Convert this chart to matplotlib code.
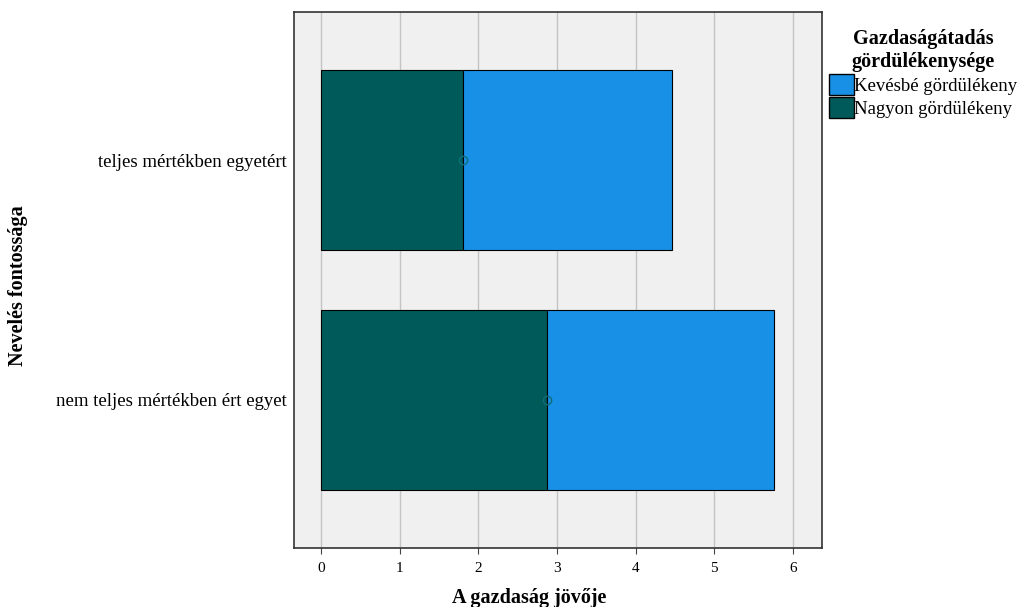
import matplotlib.pyplot as plt
from matplotlib.patches import Patch

categories = ['nem teljes mértékben ért egyet', 'teljes mértékben egyetért']
nagyon = [2.88, 1.80]
kevesbe = [2.88, 2.66]
series_labels = ['Kevésbé gördülékeny', 'Nagyon gördülékeny']
light = '#1790E6'
dark = '#005A5A'

plt.rcParams['font.family'] = ['Liberation Serif', 'DejaVu Serif']

fig = plt.figure(figsize=(10.2, 6.07), dpi=100)
ax = fig.add_axes([294 / 1020, 1 - 548 / 607, 528 / 1020, 536 / 607])
ax.set_facecolor('#F0F0F0')

ypos = list(range(len(categories)))
ax.barh(ypos, nagyon, height=0.75, color=dark, edgecolor='black', linewidth=0.8, zorder=3)
ax.barh(ypos, kevesbe, left=nagyon, height=0.75, color=light, edgecolor='black', linewidth=0.8, zorder=3)
ax.plot(nagyon, ypos, 'o', ms=6, mfc='none', mec='#0F6E78', mew=1, zorder=4)

ax.set_xlim(-0.343, 6.37)
ax.set_ylim(-0.617, 1.617)
ax.set_xticks(range(7))
ax.set_yticks(ypos)
ax.set_yticklabels(categories, fontsize=13.5)
ax.tick_params(axis='x', labelsize=11, length=4, color='#444444', pad=6)
ax.tick_params(axis='y', length=0, pad=5)
ax.xaxis.grid(True, color='#C4C4C4', linewidth=1, zorder=0)
ax.set_axisbelow(True)
for s in ax.spines.values():
    s.set_color('#333333')
    s.set_linewidth(1.2)

ax.set_xlabel('A gazdaság jövője', fontsize=14.5, fontweight='bold')
ax.set_ylabel('Nevelés fontossága', fontsize=14.5, fontweight='bold')
ax.xaxis.set_label_coords((529 - 294) / 528, (548 - 598) / 536)
ax.xaxis.label.set_va('center')
ax.yaxis.set_label_coords((18 - 294) / 528, 0.49)
ax.yaxis.label.set_va('center')

handles = [Patch(facecolor=light, edgecolor='black'), Patch(facecolor=dark, edgecolor='black')]
leg = fig.legend(handles, series_labels, loc='upper left', bbox_to_anchor=(816 / 1020, 1 - 16 / 607),
                 title='Gazdaságátadás\ngördülékenysége', frameon=False, fontsize=13.5,
                 title_fontproperties={'weight': 'bold', 'size': 14.5},
                 handlelength=1.3, handleheight=1.3, handletextpad=0.05, borderpad=0.2,
                 labelspacing=0.12)
leg._legend_box.align = 'center'
leg.get_title().set_multialignment('center')

fig.savefig('out.png', dpi=100)
